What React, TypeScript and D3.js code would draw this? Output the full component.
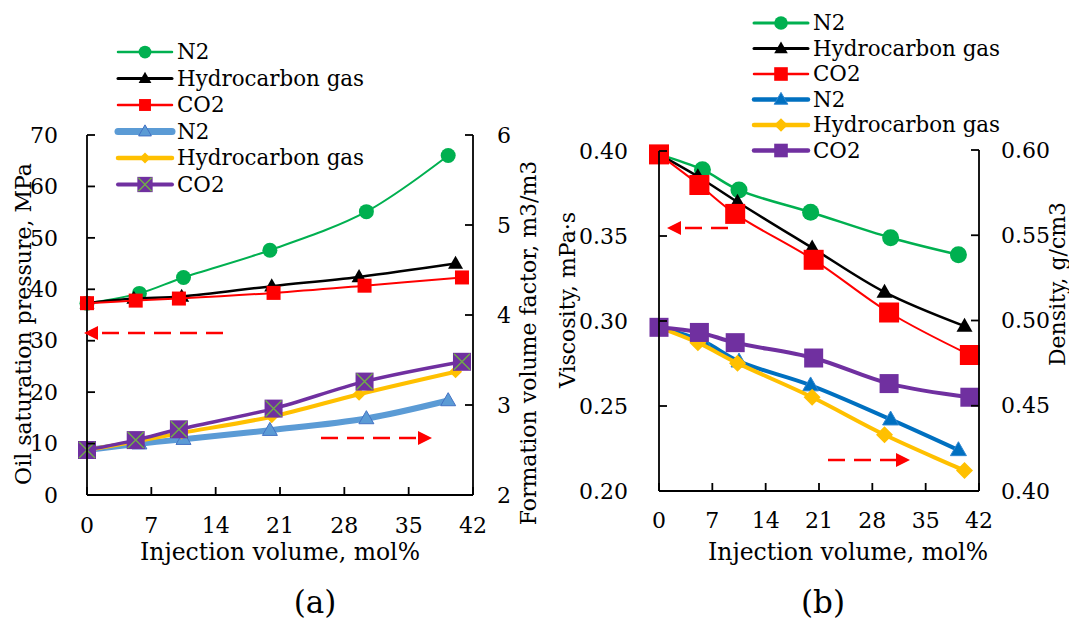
import React from "react";
import * as d3 from "d3";

// ---------- data ----------
const xN2 = [0, 5.7, 10.5, 19.9, 30.4, 39.3];
const xHC = [0, 5.1, 10.3, 20.1, 29.6, 40.1];
const xCO2 = [0, 5.3, 10.0, 20.3, 30.2, 40.8];

// panel (a)
const satN2 = [37.3, 39.2, 42.3, 47.6, 55.1, 66.0];
const satHC = [37.3, 38.2, 38.6, 40.6, 42.4, 45.0];
const satCO2 = [37.3, 37.8, 38.2, 39.3, 40.7, 42.3];
const fvfN2 = [2.5, 2.57, 2.62, 2.72, 2.85, 3.05];
const fvfHC = [2.5, 2.59, 2.69, 2.87, 3.12, 3.37];
const fvfCO2 = [2.5, 2.61, 2.73, 2.96, 3.26, 3.48];

// panel (b)
const viscN2 = [0.398, 0.389, 0.377, 0.364, 0.349, 0.339];
const viscHC = [0.398, 0.385, 0.370, 0.343, 0.317, 0.297];
const viscCO2 = [0.398, 0.38, 0.363, 0.336, 0.305, 0.28];
const densN2 = [0.496, 0.488, 0.476, 0.462, 0.442, 0.424];
const densHC = [0.496, 0.487, 0.475, 0.455, 0.433, 0.412];
const densCO2 = [0.496, 0.493, 0.487, 0.478, 0.463, 0.455];

const xTicks = [0, 7, 14, 21, 28, 35, 42];
const satTicks = [0, 10, 20, 30, 40, 50, 60, 70];
const fvfTicks = [2, 3, 4, 5, 6];
const viscTicks = [0.2, 0.25, 0.3, 0.35, 0.4];
const densTicks = [0.4, 0.45, 0.5, 0.55, 0.6];

const legendLabels = ["N2", "Hydrocarbon gas", "CO2", "N2", "Hydrocarbon gas", "CO2"];

const FONT = "DejaVu Serif";

type MarkerKind = "circle" | "triangle" | "square" | "diamond" | "squareX";

function Marker({ kind, x, y, size, fill, stroke }: { kind: MarkerKind; x: number; y: number; size: number; fill: string; stroke?: string }) {
  const s = size;
  if (kind === "circle") return <circle cx={x} cy={y} r={s / 2} fill={fill} />;
  if (kind === "square")
    return <rect x={x - s / 2} y={y - s / 2} width={s} height={s} fill={fill} />;
  if (kind === "squareX")
    return (
      <g>
        <rect x={x - s / 2} y={y - s / 2} width={s} height={s} fill={fill} />
        <path d={`M${x - s / 2 + 1},${y - s / 2 + 1}L${x + s / 2 - 1},${y + s / 2 - 1}M${x + s / 2 - 1},${y - s / 2 + 1}L${x - s / 2 + 1},${y + s / 2 - 1}`} stroke="#70AD47" strokeWidth={1.4} />
      </g>
    );
  if (kind === "diamond")
    return <path d={`M${x},${y - s / 2}L${x + s / 2},${y}L${x},${y + s / 2}L${x - s / 2},${y}Z`} fill={fill} />;
  const h = s * 0.87;
  return (
    <path
      d={`M${x},${y - h * 0.6}L${x + s / 2},${y + h * 0.4}L${x - s / 2},${y + h * 0.4}Z`}
      fill={fill}
      stroke={stroke || "none"}
      strokeWidth={1}
    />
  );
}

type Series = {
  xs: number[];
  ys: number[];
  axis: "L" | "R";
  color: string;
  width: number;
  marker: MarkerKind;
  msize: number;
  mfill: string;
  mstroke?: string;
};

function Arrow({ x1, x2, y }: { x1: number; x2: number; y: number }) {
  const dir = x2 > x1 ? 1 : -1;
  const head = 14;
  return (
    <g>
      <line x1={x1} y1={y} x2={x2 - dir * head} y2={y} stroke="#FF0000" strokeWidth={2.5} strokeDasharray="17,9" />
      <path d={`M${x2},${y}L${x2 - dir * head},${y - 7}L${x2 - dir * head},${y + 7}Z`} fill="#FF0000" />
    </g>
  );
}

function Panel(props: {
  x0: number; x1: number; yTop: number; yBot: number; yTopR: number;
  lDomain: [number, number]; rDomain: [number, number];
  lTicks: number[]; rTicks: number[]; fmtL: (v: number) => string; fmtR: (v: number) => string;
  series: Series[]; lLabelX: number; rLabelX: number; xLabelY: number;
}) {
  const { x0, x1, yTop, yBot, yTopR } = props;
  const xs = d3.scaleLinear().domain([0, 42]).range([x0, x1]);
  const yl = d3.scaleLinear().domain(props.lDomain).range([yBot, yTop]);
  const yr = d3.scaleLinear().domain(props.rDomain).range([yBot, yTopR]);
  const tl = 8;
  return (
    <g>
      {props.series.map((s, i) => {
        const ys = s.axis === "L" ? yl : yr;
        const pts = s.xs.map((x, k) => [xs(x), ys(s.ys[k])] as [number, number]);
        const line = d3.line().curve(d3.curveCatmullRom.alpha(0.5))(pts) || "";
        return (
          <g key={i}>
            <path d={line} fill="none" stroke={s.color} strokeWidth={s.width} strokeLinejoin="round" strokeLinecap="round" />
            {pts.map((p, k) => (
              <Marker key={k} kind={s.marker} x={p[0]} y={p[1]} size={s.msize} fill={s.mfill} stroke={s.mstroke} />
            ))}
          </g>
        );
      })}
      <g stroke="#000" strokeWidth={1.8} fill="none">
        <line x1={x0} y1={yTop} x2={x0} y2={yBot} />
        <line x1={x1} y1={yTopR} x2={x1} y2={yBot} />
        <line x1={x0} y1={yBot} x2={x1} y2={yBot} />
        {props.lTicks.map((t) => <line key={"l" + t} x1={x0} x2={x0 + tl} y1={yl(t)} y2={yl(t)} />)}
        {props.rTicks.map((t) => <line key={"r" + t} x1={x1} x2={x1 - tl} y1={yr(t)} y2={yr(t)} />)}
        {xTicks.map((t) => <line key={"x" + t} x1={xs(t)} x2={xs(t)} y1={yBot} y2={yBot - tl} />)}
      </g>
      <g fontFamily={FONT} fontSize={22} fill="#000">
        {props.lTicks.map((t) => (
          <text key={"lt" + t} x={props.lLabelX} y={yl(t)} dy="0.35em" textAnchor="end">{props.fmtL(t)}</text>
        ))}
        {props.rTicks.map((t) => (
          <text key={"rt" + t} x={props.rLabelX} y={yr(t)} dy="0.35em" textAnchor="start">{props.fmtR(t)}</text>
        ))}
        {xTicks.map((t) => (
          <text key={"xt" + t} x={xs(t)} y={props.xLabelY} dy="0.35em" textAnchor="middle">{t}</text>
        ))}
      </g>
    </g>
  );
}

function Legend({ x, y, dy, series }: { x: number; y: number; dy: number; series: Series[] }) {
  return (
    <g fontFamily={FONT} fontSize={21.4}>
      {series.map((s, i) => {
        const yy = y + i * dy;
        return (
          <g key={i}>
            <line x1={x} x2={x + 54} y1={yy} y2={yy} stroke={s.color} strokeWidth={s.width + 0.5} strokeLinecap="round" />
            <Marker kind={s.marker} x={x + 27} y={yy} size={s.msize * 0.85} fill={s.mfill} stroke={s.mstroke} />
            <text x={x + 59} y={yy} dy="0.35em">{legendLabels[i]}</text>
          </g>
        );
      })}
    </g>
  );
}

export default function App() {
  const seriesA: Series[] = [
    { xs: xN2, ys: satN2, axis: "L", color: "#00B050", width: 2, marker: "circle", msize: 15, mfill: "#00B050" },
    { xs: xHC, ys: satHC, axis: "L", color: "#000000", width: 2.5, marker: "triangle", msize: 15, mfill: "#000000" },
    { xs: xCO2, ys: satCO2, axis: "L", color: "#FF0000", width: 2, marker: "square", msize: 14, mfill: "#FF0000" },
    { xs: xN2, ys: fvfN2, axis: "R", color: "#5B9BD5", width: 6, marker: "triangle", msize: 15, mfill: "#5B9BD5", mstroke: "#4472C4" },
    { xs: xHC, ys: fvfHC, axis: "R", color: "#FFC000", width: 4, marker: "diamond", msize: 13, mfill: "#FFC000" },
    { xs: xCO2, ys: fvfCO2, axis: "R", color: "#7030A0", width: 3.5, marker: "squareX", msize: 18, mfill: "#7030A0" },
  ];
  const seriesB: Series[] = [
    { xs: xN2, ys: viscN2, axis: "L", color: "#00B050", width: 2.5, marker: "circle", msize: 17, mfill: "#00B050" },
    { xs: xHC, ys: viscHC, axis: "L", color: "#000000", width: 2.5, marker: "triangle", msize: 16, mfill: "#000000" },
    { xs: xCO2, ys: viscCO2, axis: "L", color: "#FF0000", width: 2, marker: "square", msize: 20, mfill: "#FF0000" },
    { xs: xN2, ys: densN2, axis: "R", color: "#0070C0", width: 4, marker: "triangle", msize: 16, mfill: "#0070C0", mstroke: "#2E86D1" },
    { xs: xHC, ys: densHC, axis: "R", color: "#FFC000", width: 4, marker: "diamond", msize: 17, mfill: "#FFC000" },
    { xs: xCO2, ys: densCO2, axis: "R", color: "#7030A0", width: 4, marker: "square", msize: 19, mfill: "#7030A0" },
  ];
  const legA = seriesA.map((s, i) => (i === 3 ? { ...s, width: 6.5 } : i === 4 ? { ...s, msize: 13 } : s));
  const legB = seriesB.map((s) => ({ ...s, msize: Math.min(s.msize, 16) }));
  return (
    <svg width={1069} height={621} style={{ position: "absolute", left: 0, top: 0, background: "#fff" }}>
      <rect width={1069} height={621} fill="#fff" />
      <Panel
        x0={87} x1={473} yTop={135} yBot={495} yTopR={135}
        lDomain={[0, 70]} rDomain={[2, 6]} lTicks={satTicks} rTicks={fvfTicks}
        fmtL={(v) => String(v)} fmtR={(v) => String(v)}
        series={seriesA} lLabelX={58} rLabelX={497} xLabelY={525}
      />
      <Panel
        x0={659} x1={979} yTop={151} yBot={491} yTopR={150}
        lDomain={[0.2, 0.4]} rDomain={[0.4, 0.6]} lTicks={viscTicks} rTicks={densTicks}
        fmtL={d3.format(".2f")} fmtR={d3.format(".2f")}
        series={seriesB} lLabelX={628} rLabelX={1001} xLabelY={520}
      />
      <Arrow x1={223} x2={84} y={333} />
      <Arrow x1={321} x2={432} y={438} />
      <Arrow x1={728} x2={667} y={228} />
      <Arrow x1={828} x2={910} y={460} />
      <Legend x={118} y={52} dy={26.5} series={legA} />
      <Legend x={754} y={23} dy={25.5} series={legB} />
      <g fontFamily={FONT} fontSize={22} fill="#000" textAnchor="middle">
        <text transform="translate(23,324) rotate(-90)" dy="0.35em">Oil saturation pressure, MPa</text>
        <text transform="translate(528,343) rotate(-90)" dy="0.35em">Formation volume factor, m3/m3</text>
        <text transform="translate(567,300) rotate(-90)" dy="0.35em">Viscosity, mPa·s</text>
        <text transform="translate(1057,284) rotate(-90)" dy="0.35em">Density, g/cm3</text>
        <text x={280} y={552} dy="0.35em" fontSize={23.5}>Injection volume, mol%</text>
        <text x={848} y={552} dy="0.35em" fontSize={23.5}>Injection volume, mol%</text>
        <text x={315} y={602} dy="0.35em" fontSize={31}>(a)</text>
        <text x={823} y={602} dy="0.35em" fontSize={31}>(b)</text>
      </g>
    </svg>
  );
}
